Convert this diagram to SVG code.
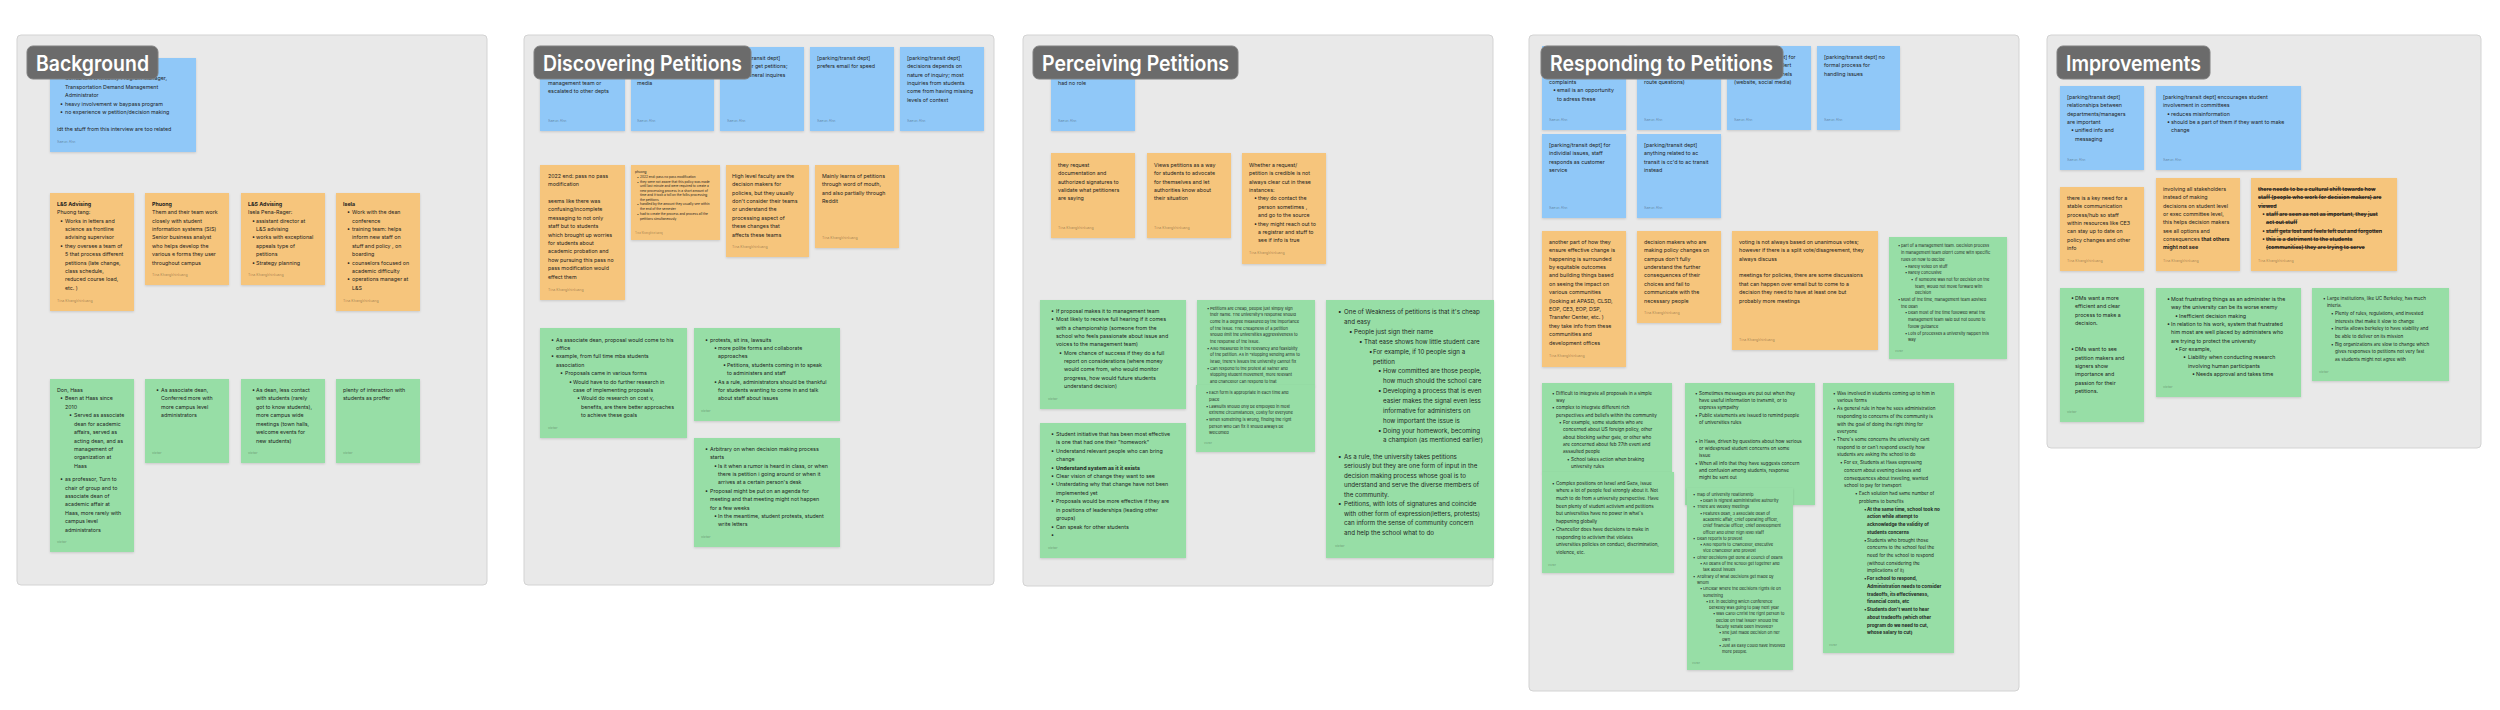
<svg xmlns="http://www.w3.org/2000/svg" width="2500" height="710" viewBox="0 0 2500 710">
<defs>
<filter id="sh" x="-10%" y="-10%" width="120%" height="125%">
<feDropShadow dx="0" dy="1" stdDeviation="1" flood-color="#000" flood-opacity="0.14"/>
</filter>
</defs>
<style>
text{font-family:Inter,"Liberation Sans","DejaVu Sans",sans-serif;fill:#1e1e1e}
.t{font-size:5.3px}
.m{font-size:6.2px}
.s{font-size:4.6px}
.xs{font-size:4.05px}
.xxs{font-size:3.2px}
.au{font-size:3.6px;fill:#000;fill-opacity:.38}
.b{font-weight:700}
.st{font-weight:700;text-decoration:line-through}
.title{font-size:21.5px;font-weight:600;fill:#fff}
.frame{fill:#e9e9e9;stroke:#d3d3d3;stroke-width:1}
.nb{fill:#90c8f8;filter:url(#sh)}
.no{fill:#f6c57b;filter:url(#sh)}
.ng{fill:#97dea6;filter:url(#sh)}
.badge{fill:#6b6b6b;stroke:#808080;stroke-width:1}
</style>
<rect x="0" y="0" width="2500" height="710" fill="#ffffff"/>

<g id="frames">
<rect class="frame" x="17" y="35" width="470" height="550" rx="4"/>
<rect class="frame" x="524" y="35" width="470" height="550" rx="4"/>
<rect class="frame" x="1023" y="35" width="470" height="551" rx="4"/>
<rect class="frame" x="1529" y="35" width="490" height="656" rx="4"/>
<rect class="frame" x="2047" y="35" width="434" height="413" rx="4"/>
</g>

<g id="connectors"></g>

<!-- ===== Background ===== -->
<g id="bg-blue-1">
<rect class="nb" x="50" y="58" width="146" height="94"/>
<text class="t">
<tspan x="60" y="80.1">•</tspan><tspan x="65">Consultant w Mobility Program Manager,</tspan>
<tspan x="65" y="88.8">Transportation Demand Management</tspan>
<tspan x="65" y="97.1">Administrator</tspan>
<tspan x="60" y="105.5">•</tspan><tspan x="65">heavy involvement w baypass program</tspan>
<tspan x="60" y="113.8">•</tspan><tspan x="65">no experience w petition/decision making</tspan>
<tspan x="57" y="130.8">idt the stuff from this interview are too related</tspan>
</text>
<text class="au" x="57" y="142.9">Saeun Ahn</text>
</g>

<g id="bg-orange-1">
<rect class="no" x="50" y="193" width="84" height="118"/>
<text class="t">
<tspan x="57" y="205.8" class="b">L&amp;S Advising</tspan>
<tspan x="57" y="214.2">Phuong tang:</tspan>
<tspan x="60" y="222.6">•</tspan><tspan x="65">Works in letters and</tspan>
<tspan x="65" y="231">science as frontline</tspan>
<tspan x="65" y="239.4">advising supervisor</tspan>
<tspan x="60" y="247.8">•</tspan><tspan x="65">they oversee a team of</tspan>
<tspan x="65" y="256.2">5 that process different</tspan>
<tspan x="65" y="264.6">petitions (late change,</tspan>
<tspan x="65" y="273">class schedule,</tspan>
<tspan x="65" y="281.4">reduced course load,</tspan>
<tspan x="65" y="289.8">etc. )</tspan>
</text>
<text class="au" x="57" y="302">Tina Khangkhinluang</text>
</g>

<g id="bg-orange-2">
<rect class="no" x="145" y="193" width="84" height="92"/>
<text class="t">
<tspan x="152" y="205.8" class="b">Phuong</tspan>
<tspan x="152" y="214.2">Them and their team work</tspan>
<tspan x="152" y="222.6">closely with student</tspan>
<tspan x="152" y="231">information systems (SIS)</tspan>
<tspan x="152" y="239.4">Senior business analyst</tspan>
<tspan x="152" y="247.8">who helps develop the</tspan>
<tspan x="152" y="256.2">various e forms they user</tspan>
<tspan x="152" y="264.6">throughout campus</tspan>
</text>
<text class="au" x="152" y="276.3">Tina Khangkhinluang</text>
</g>

<g id="bg-orange-3">
<rect class="no" x="241" y="193" width="84" height="92"/>
<text class="t">
<tspan x="248" y="205.8" class="b">L&amp;S Advising</tspan>
<tspan x="248" y="214.2">Isela Pena-Rager:</tspan>
<tspan x="252" y="222.6">•</tspan><tspan x="256">assistant director at</tspan>
<tspan x="256" y="231">L&amp;S advising</tspan>
<tspan x="252" y="239.4">•</tspan><tspan x="256">works with exceptional</tspan>
<tspan x="256" y="247.8">appeals type of</tspan>
<tspan x="256" y="256.2">petitions</tspan>
<tspan x="252" y="264.6">•</tspan><tspan x="256">Strategy planning</tspan>
</text>
<text class="au" x="248" y="276.3">Tina Khangkhinluang</text>
</g>

<g id="bg-orange-4">
<rect class="no" x="336" y="193" width="84" height="118"/>
<text class="t">
<tspan x="343" y="205.8" class="b">Isela</tspan>
<tspan x="347" y="214.2">•</tspan><tspan x="352">Work with the dean</tspan>
<tspan x="352" y="222.6">conference</tspan>
<tspan x="347" y="231">•</tspan><tspan x="352">training team: helps</tspan>
<tspan x="352" y="239.4">inform new staff on</tspan>
<tspan x="352" y="247.8">stuff and policy , on</tspan>
<tspan x="352" y="256.2">boarding</tspan>
<tspan x="347" y="264.6">•</tspan><tspan x="352">counselors focused on</tspan>
<tspan x="352" y="273">academic difficulty</tspan>
<tspan x="347" y="281.4">•</tspan><tspan x="352">operations manager at</tspan>
<tspan x="352" y="289.8">L&amp;S</tspan>
</text>
<text class="au" x="343" y="302">Tina Khangkhinluang</text>
</g>

<g id="bg-green-1">
<rect class="ng" x="50" y="379" width="84" height="173"/>
<text class="t">
<tspan x="57" y="391.8">Don, Haas</tspan>
<tspan x="60" y="400.1">•</tspan><tspan x="65">Been at Haas since</tspan>
<tspan x="65" y="408.8">2010</tspan>
<tspan x="69" y="417.1">•</tspan><tspan x="74">Served as associate</tspan>
<tspan x="74" y="425.5">dean for academic</tspan>
<tspan x="74" y="434.1">affairs, served as</tspan>
<tspan x="74" y="442.5">acting dean, and as</tspan>
<tspan x="74" y="450.8">management of</tspan>
<tspan x="74" y="459.1">organization at</tspan>
<tspan x="74" y="467.5">Haas</tspan>
<tspan x="60" y="481.1">•</tspan><tspan x="65">as professor, Turn to</tspan>
<tspan x="65" y="489.5">chair of group and to</tspan>
<tspan x="65" y="497.8">associate dean of</tspan>
<tspan x="65" y="506.1">academic affair at</tspan>
<tspan x="65" y="514.8">Haas, more rarely with</tspan>
<tspan x="65" y="523.1">campus level</tspan>
<tspan x="65" y="531.5">administrators</tspan>
</text>
<text class="au" x="57" y="543.2">victor</text>
</g>

<g id="bg-green-2">
<rect class="ng" x="145" y="379" width="84" height="84"/>
<text class="t">
<tspan x="156" y="391.8">•</tspan><tspan x="161">As associate dean,</tspan>
<tspan x="161" y="400.1">Conferred more with</tspan>
<tspan x="161" y="408.8">more campus level</tspan>
<tspan x="161" y="417.1">administrators</tspan>
</text>
<text class="au" x="152" y="454.2">victor</text>
</g>

<g id="bg-green-3">
<rect class="ng" x="241" y="379" width="84" height="84"/>
<text class="t">
<tspan x="252" y="391.8">•</tspan><tspan x="256">As dean, less contact</tspan>
<tspan x="256" y="400.1">with students (rarely</tspan>
<tspan x="256" y="408.8">got to know students),</tspan>
<tspan x="256" y="417.1">more campus wide</tspan>
<tspan x="256" y="425.5">meetings (town halls,</tspan>
<tspan x="256" y="434.1">welcome events for</tspan>
<tspan x="256" y="442.5">new students)</tspan>
</text>
<text class="au" x="248" y="454.2">victor</text>
</g>

<g id="bg-green-4">
<rect class="ng" x="336" y="379" width="84" height="84"/>
<text class="t">
<tspan x="343" y="391.8">plenty of interaction with</tspan>
<tspan x="343" y="400.1">students as proffer</tspan>
</text>
<text class="au" x="343" y="454.2">victor</text>
</g>

<!-- ===== Discovering Petitions ===== -->
<g id="dp-blue-1">
<rect class="nb" x="540" y="47" width="85" height="84"/>
<text class="t">
<tspan x="548" y="85">management team or</tspan>
<tspan x="548" y="93.4">escalated to other depts</tspan>
</text>
<text class="au" x="548" y="122.2">Saeun Ahn</text>
</g>
<g id="dp-blue-2">
<rect class="nb" x="631" y="47" width="83" height="84"/>
<text class="t"><tspan x="637" y="85">media</tspan></text>
<text class="au" x="637" y="122.2">Saeun Ahn</text>
</g>
<g id="dp-blue-3">
<rect class="nb" x="720" y="47" width="84" height="84"/>
<text class="t">
<tspan x="727" y="59.8">[parking/transit dept]</tspan>
<tspan x="727" y="68.2">they never get petitions;</tspan>
<tspan x="727" y="76.6">mostly general inquires</tspan>
</text>
<text class="au" x="727" y="122.2">Saeun Ahn</text>
</g>
<g id="dp-blue-4">
<rect class="nb" x="810" y="47" width="84" height="84"/>
<text class="t">
<tspan x="817" y="59.8">[parking/transit dept]</tspan>
<tspan x="817" y="68.2">prefers email for speed</tspan>
</text>
<text class="au" x="817" y="122.2">Saeun Ahn</text>
</g>
<g id="dp-blue-5">
<rect class="nb" x="900" y="47" width="84" height="84"/>
<text class="t">
<tspan x="907" y="59.8">[parking/transit dept]</tspan>
<tspan x="907" y="68.2">decisions depends on</tspan>
<tspan x="907" y="76.6">nature of inquiry; most</tspan>
<tspan x="907" y="85">inquiries from students</tspan>
<tspan x="907" y="93.4">come from having missing</tspan>
<tspan x="907" y="101.8">levels of context</tspan>
</text>
<text class="au" x="907" y="122.2">Saeun Ahn</text>
</g>

<g id="dp-orange-1">
<rect class="no" x="540" y="165" width="85" height="135"/>
<text class="t">
<tspan x="548" y="177.8">2022 end: pass no pass</tspan>
<tspan x="548" y="186.2">modification</tspan>
<tspan x="548" y="203">seems like there was</tspan>
<tspan x="548" y="211.4">confusing/incomplete</tspan>
<tspan x="548" y="219.8">messaging to not only</tspan>
<tspan x="548" y="228.2">staff but to students</tspan>
<tspan x="548" y="236.6">which brought up worries</tspan>
<tspan x="548" y="245">for students about</tspan>
<tspan x="548" y="253.4">academic probation and</tspan>
<tspan x="548" y="261.8">how pursuing this pass no</tspan>
<tspan x="548" y="270.2">pass modification would</tspan>
<tspan x="548" y="278.6">effect them</tspan>
</text>
<text class="au" x="548" y="291.2">Tina Khangkhinluang</text>
</g>

<g id="dp-orange-2">
<rect class="no" x="631" y="165" width="89" height="75"/>
<text class="xxs">
<tspan x="635" y="173.1">phuong</tspan>
<tspan x="637" y="178.4">•</tspan><tspan x="640">2022 end: pass no pass modification</tspan>
<tspan x="637" y="183.1">•</tspan><tspan x="640">they were not aware that this policy was made</tspan>
<tspan x="640" y="187.4">until last minute and were required to create a</tspan>
<tspan x="640" y="192.1">new processing process in a short amount of</tspan>
<tspan x="640" y="196.4">time and it took a toll on the folks processing</tspan>
<tspan x="640" y="200.8">the petitions</tspan>
<tspan x="637" y="205.4">•</tspan><tspan x="640">handled by the amount they usually see within</tspan>
<tspan x="640" y="210.1">the end of the semester</tspan>
<tspan x="637" y="214.8">•</tspan><tspan x="640">had to create the process and process all the</tspan>
<tspan x="640" y="219.8">petitions simultaneously</tspan>
</text>
<text class="au" x="635" y="233.5" style="font-size:2.8px">Tina Khangkhinluang</text>
</g>

<g id="dp-orange-3">
<rect class="no" x="726" y="165" width="83" height="92"/>
<text class="t">
<tspan x="732" y="177.8">High level faculty are the</tspan>
<tspan x="732" y="186.2">decision makers for</tspan>
<tspan x="732" y="194.6">policies, but they usually</tspan>
<tspan x="732" y="203">don't consider their teams</tspan>
<tspan x="732" y="211.4">or understand the</tspan>
<tspan x="732" y="219.8">processing aspect of</tspan>
<tspan x="732" y="228.2">these changes that</tspan>
<tspan x="732" y="236.6">affects these teams</tspan>
</text>
<text class="au" x="732" y="248.2">Tina Khangkhinluang</text>
</g>

<g id="dp-orange-4">
<rect class="no" x="815" y="165" width="84" height="83"/>
<text class="t">
<tspan x="822" y="177.8">Mainly learns of petitions</tspan>
<tspan x="822" y="186.2">through word of mouth,</tspan>
<tspan x="822" y="194.6">and also partially through</tspan>
<tspan x="822" y="203">Reddit</tspan>
</text>
<text class="au" x="822" y="239.2">Tina Khangkhinluang</text>
</g>

<g id="dp-green-1">
<rect class="ng" x="540" y="328" width="147" height="110"/>
<text class="t">
<tspan x="551" y="341.5">•</tspan><tspan x="556">As associate dean, proposal would come to his</tspan>
<tspan x="556" y="349.9">office</tspan>
<tspan x="551" y="358.3">•</tspan><tspan x="556">example, from full time mba students</tspan>
<tspan x="556" y="366.7">association</tspan>
<tspan x="560" y="375.1">•</tspan><tspan x="565">Proposals came in various forms</tspan>
<tspan x="569" y="383.5">•</tspan><tspan x="573">Would have to do further research in</tspan>
<tspan x="573" y="391.9">case of implementing proposals</tspan>
<tspan x="577" y="400.3">•</tspan><tspan x="581">Would do research on cost v,</tspan>
<tspan x="581" y="408.7">benefits, are there better approaches</tspan>
<tspan x="581" y="417.1">to achieve these goals</tspan>
</text>
<text class="au" x="548" y="429.2">victor</text>
</g>

<g id="dp-green-2">
<rect class="ng" x="694" y="328" width="146" height="93"/>
<text class="t">
<tspan x="705" y="341.5">•</tspan><tspan x="710">protests, sit ins, lawsuits</tspan>
<tspan x="714" y="349.9">•</tspan><tspan x="718">more polite forms and collaborate</tspan>
<tspan x="718" y="358.3">approaches</tspan>
<tspan x="723" y="366.7">•</tspan><tspan x="727">Petitions, students coming in to speak</tspan>
<tspan x="727" y="375.1">to administers and staff</tspan>
<tspan x="714" y="383.5">•</tspan><tspan x="718">As a rule, administrators should be thankful</tspan>
<tspan x="718" y="391.9">for students wanting to come in and talk</tspan>
<tspan x="718" y="400.3">about staff about issues</tspan>
</text>
<text class="au" x="701" y="412.2">victor</text>
</g>

<g id="dp-green-3">
<rect class="ng" x="694" y="438" width="146" height="109"/>
<text class="t">
<tspan x="705" y="450.8">•</tspan><tspan x="710">Arbitrary on when decision making process</tspan>
<tspan x="710" y="459.2">starts</tspan>
<tspan x="714" y="467.6">•</tspan><tspan x="718">Is it when a rumor is heard in class, or when</tspan>
<tspan x="718" y="476">there is petition i going around or when it</tspan>
<tspan x="718" y="484.4">arrives at a certain person's desk</tspan>
<tspan x="705" y="492.8">•</tspan><tspan x="710">Proposal might be put on an agenda for</tspan>
<tspan x="710" y="501.2">meeting and that meeting might not happen</tspan>
<tspan x="710" y="509.6">for a few weeks</tspan>
<tspan x="714" y="518">•</tspan><tspan x="718">In the meantime, student protests, student</tspan>
<tspan x="718" y="526.4">write letters</tspan>
</text>
<text class="au" x="701" y="538.2">victor</text>
</g>

<!-- ===== Perceiving Petitions ===== -->
<g id="pp-blue-1">
<rect class="nb" x="1051" y="47" width="84" height="84"/>
<text class="t"><tspan x="1058" y="84.8">had no role</tspan></text>
<text class="au" x="1058" y="122.2">Saeun Ahn</text>
</g>

<g id="pp-orange-1">
<rect class="no" x="1051" y="153" width="84" height="85"/>
<text class="t">
<tspan x="1058" y="166.8">they request</tspan>
<tspan x="1058" y="175.2">documentation and</tspan>
<tspan x="1058" y="183.6">authorized signatures to</tspan>
<tspan x="1058" y="192">validate what petitioners</tspan>
<tspan x="1058" y="200.4">are saying</tspan>
</text>
<text class="au" x="1058" y="229.2">Tina Khangkhinluang</text>
</g>
<g id="pp-orange-2">
<rect class="no" x="1147" y="153" width="84" height="85"/>
<text class="t">
<tspan x="1154" y="166.8">Views petitions as a way</tspan>
<tspan x="1154" y="175.2">for students to advocate</tspan>
<tspan x="1154" y="183.6">for themselves and let</tspan>
<tspan x="1154" y="192">authorities know about</tspan>
<tspan x="1154" y="200.4">their situation</tspan>
</text>
<text class="au" x="1154" y="229.2">Tina Khangkhinluang</text>
</g>
<g id="pp-orange-3">
<rect class="no" x="1242" y="153" width="84" height="111"/>
<text class="t">
<tspan x="1249" y="166.8">Whether a request/</tspan>
<tspan x="1249" y="175.2">petition is credible is not</tspan>
<tspan x="1249" y="183.6">always clear cut in these</tspan>
<tspan x="1249" y="192">instances:</tspan>
<tspan x="1254" y="200.4">•</tspan><tspan x="1258">they do contact the</tspan>
<tspan x="1258" y="208.8">person sometimes ,</tspan>
<tspan x="1258" y="217.2">and go to the source</tspan>
<tspan x="1254" y="225.6">•</tspan><tspan x="1258">they might reach out to</tspan>
<tspan x="1258" y="234">a registrar and stuff to</tspan>
<tspan x="1258" y="242.4">see if info is true</tspan>
</text>
<text class="au" x="1249" y="254.2">Tina Khangkhinluang</text>
</g>

<g id="pp-green-1">
<rect class="ng" x="1040" y="300" width="146" height="109"/>
<text class="t">
<tspan x="1051" y="312.8">•</tspan><tspan x="1056">If proposal makes it to management team</tspan>
<tspan x="1051" y="321.2">•</tspan><tspan x="1056">Most likely to receive full hearing if it comes</tspan>
<tspan x="1056" y="329.5">with a championship (someone from the</tspan>
<tspan x="1056" y="337.9">school who feels passionate about issue  and</tspan>
<tspan x="1056" y="346.3">voices to the management team)</tspan>
<tspan x="1059" y="354.7">•</tspan><tspan x="1064">More chance of success if they do a full</tspan>
<tspan x="1064" y="363">report on considerations (where money</tspan>
<tspan x="1064" y="371.4">would come from, who would monitor</tspan>
<tspan x="1064" y="379.8">progress, how would future students</tspan>
<tspan x="1064" y="388.1">understand decision)</tspan>
</text>
<text class="au" x="1048" y="400.2">victor</text>
</g>

<g id="pp-green-2">
<rect class="ng" x="1040" y="423" width="146" height="135"/>
<text class="t">
<tspan x="1051" y="435.8">•</tspan><tspan x="1056">Student initiative that has been most effective</tspan>
<tspan x="1056" y="444.2">is one that had one their "homework"</tspan>
<tspan x="1051" y="452.7">•</tspan><tspan x="1056">Understand relevant people who can bring</tspan>
<tspan x="1056" y="461.1">change</tspan>
<tspan x="1051" y="469.5">•</tspan><tspan x="1056" class="b">Understand system as it it exists</tspan>
<tspan x="1051" y="478">•</tspan><tspan x="1056">Clear vision of change they want to see</tspan>
<tspan x="1051" y="486.4">•</tspan><tspan x="1056">Unsterdating why that change have not been</tspan>
<tspan x="1056" y="494.8">implemented yet</tspan>
<tspan x="1051" y="503.2">•</tspan><tspan x="1056">Proposals would be more effective if they are</tspan>
<tspan x="1056" y="511.7">in positions of leaderships (leading other</tspan>
<tspan x="1056" y="520.1">groups)</tspan>
<tspan x="1051" y="528.5">•</tspan><tspan x="1056">Can speak for other students</tspan>
<tspan x="1051" y="537">•</tspan>
</text>
<text class="au" x="1048" y="549.2">victor</text>
</g>

<g id="pp-green-3">
<rect class="ng" x="1197" y="300" width="118" height="86"/>
<rect class="ng" x="1196" y="385" width="119" height="67"/>
<text class="xs">
<tspan x="1207" y="309.7">•</tspan><tspan x="1210">Petitions are cheap, people just simply sign</tspan>
<tspan x="1210" y="316.4">their name. The university's response should</tspan>
<tspan x="1210" y="323">come in a degree measured  by the importance</tspan>
<tspan x="1210" y="329.7">of the issue. The cheapness of a petition</tspan>
<tspan x="1210" y="336.4">should limit the universities aggressiveness  to</tspan>
<tspan x="1210" y="343">the response of the issue.</tspan>
<tspan x="1207" y="349.7">•</tspan><tspan x="1210">Also measured in the relevancy and feasibility</tspan>
<tspan x="1210" y="356.4">of the petition. As in "stopping sending arms to</tspan>
<tspan x="1210" y="363">israel, there's issues the university cannot fix</tspan>
<tspan x="1207" y="369.7">•</tspan><tspan x="1210">Can respond to the protest at Sather and</tspan>
<tspan x="1210" y="376.4">stopping student movement, more relevant</tspan>
<tspan x="1210" y="383">and chancellor can respond to that</tspan>
<tspan x="1206" y="394.4">•</tspan><tspan x="1209">Each form is appropriate in each time and</tspan>
<tspan x="1209" y="401">place</tspan>
<tspan x="1206" y="407.6">•</tspan><tspan x="1209">Lawsuits should only be employed in most</tspan>
<tspan x="1209" y="414.3">extreme circumstances, costly for everyone</tspan>
<tspan x="1206" y="420.9">•</tspan><tspan x="1209">When something is wrong, finding the right</tspan>
<tspan x="1209" y="427.5">person who can fix it should always be</tspan>
<tspan x="1209" y="434.1">welcomed</tspan>
</text>
<text class="au" x="1204" y="444" style="font-size:3px">victor</text>
</g>

<g id="pp-green-4">
<rect class="ng" x="1326" y="300" width="168" height="258"/>
<text class="m">
<tspan x="1338" y="314.1">•</tspan><tspan x="1344">One of Weakness of petitions is that it's cheap</tspan>
<tspan x="1344" y="324">and easy</tspan>
<tspan x="1349" y="333.8">•</tspan><tspan x="1354">People just sign their name</tspan>
<tspan x="1359" y="343.7">•</tspan><tspan x="1364">That ease shows how little student care</tspan>
<tspan x="1369" y="353.6">•</tspan><tspan x="1373">For example, if 10 people sign a</tspan>
<tspan x="1373" y="363.5">petition</tspan>
<tspan x="1378" y="373.3">•</tspan><tspan x="1383">How committed are those people,</tspan>
<tspan x="1383" y="383.2">how much should the school care</tspan>
<tspan x="1378" y="393.1">•</tspan><tspan x="1383">Developing a process that is even</tspan>
<tspan x="1383" y="402.9">easier makes the signal even less</tspan>
<tspan x="1383" y="412.8">informative for administers on</tspan>
<tspan x="1383" y="422.7">how important the issue is</tspan>
<tspan x="1378" y="432.5">•</tspan><tspan x="1383">Doing your homework, becoming</tspan>
<tspan x="1383" y="442.4">a champion (as mentioned earlier)</tspan>
<tspan x="1338" y="458.8">•</tspan><tspan x="1344">As a rule, the university takes petitions</tspan>
<tspan x="1344" y="468.3">seriously but they are one form of input in the</tspan>
<tspan x="1344" y="477.8">decision making process whose goal is to</tspan>
<tspan x="1344" y="487.3">understand and serve the diverse members of</tspan>
<tspan x="1344" y="496.8">the community.</tspan>
<tspan x="1338" y="506.3">•</tspan><tspan x="1344">Petitions, with lots of signatures and coincide</tspan>
<tspan x="1344" y="515.8">with other form of expression(letters, protests)</tspan>
<tspan x="1344" y="525.3">can inform the sense of community concern</tspan>
<tspan x="1344" y="534.8">and help the school what to do</tspan>
</text>
<text class="au" x="1335" y="547.2">victor</text>
</g>

<!-- ===== Responding to Petitions ===== -->
<g id="rp-blue-1">
<rect class="nb" x="1542" y="46" width="84" height="84"/>
<text class="t">
<tspan x="1549" y="83.8">complaints</tspan>
<tspan x="1553" y="92.1">•</tspan><tspan x="1557">email is an opportunity</tspan>
<tspan x="1557" y="100.5">to adress these</tspan>
</text>
<text class="au" x="1549" y="121.2">Saeun Ahn</text>
</g>
<g id="rp-blue-2">
<rect class="nb" x="1637" y="46" width="84" height="84"/>
<text class="t"><tspan x="1644" y="83.8">route questions)</tspan></text>
<text class="au" x="1644" y="121.2">Saeun Ahn</text>
</g>
<g id="rp-blue-3">
<rect class="nb" x="1727" y="46" width="84" height="84"/>
<text class="t">
<tspan x="1734" y="58.8">[parking/transit dept] for</tspan>
<tspan x="1734" y="67.2">big changes, they alert</tspan>
<tspan x="1734" y="75.6">through other channels</tspan>
<tspan x="1734" y="84">(website, social media)</tspan>
</text>
<text class="au" x="1734" y="121.2">Saeun Ahn</text>
</g>
<g id="rp-blue-4">
<rect class="nb" x="1817" y="46" width="83" height="84"/>
<text class="t">
<tspan x="1824" y="58.8">[parking/transit dept] no</tspan>
<tspan x="1824" y="67.2">formal process for</tspan>
<tspan x="1824" y="75.6">handling issues</tspan>
</text>
<text class="au" x="1824" y="121.2">Saeun Ahn</text>
</g>
<g id="rp-blue-5">
<rect class="nb" x="1542" y="134" width="84" height="84"/>
<text class="t">
<tspan x="1549" y="146.8">[parking/transit dept]  for</tspan>
<tspan x="1549" y="155.2">individial issues, staff</tspan>
<tspan x="1549" y="163.6">responds as customer</tspan>
<tspan x="1549" y="172">service</tspan>
</text>
<text class="au" x="1549" y="209.2">Saeun Ahn</text>
</g>
<g id="rp-blue-6">
<rect class="nb" x="1637" y="134" width="84" height="84"/>
<text class="t">
<tspan x="1644" y="146.8">[parking/transit dept]</tspan>
<tspan x="1644" y="155.2">anything related to ac</tspan>
<tspan x="1644" y="163.6">transit is cc'd to ac transit</tspan>
<tspan x="1644" y="172">instead</tspan>
</text>
<text class="au" x="1644" y="209.2">Saeun Ahn</text>
</g>

<g id="rp-orange-1">
<rect class="no" x="1542" y="231" width="84" height="136"/>
<text class="t">
<tspan x="1549" y="243.8">another part of how they</tspan>
<tspan x="1549" y="252.2">ensure effective change is</tspan>
<tspan x="1549" y="260.6">happening is surrounded</tspan>
<tspan x="1549" y="269">by equitable outcomes</tspan>
<tspan x="1549" y="277.4">and building things based</tspan>
<tspan x="1549" y="285.8">on seeing the impact on</tspan>
<tspan x="1549" y="294.2">various communities</tspan>
<tspan x="1549" y="302.6">(looking at APASD, CLSD,</tspan>
<tspan x="1549" y="311">EOP, CE3, EOP, DSP,</tspan>
<tspan x="1549" y="319.4">Transfer Center, etc. )</tspan>
<tspan x="1549" y="327.8">they take info from these</tspan>
<tspan x="1549" y="336.2">communities and</tspan>
<tspan x="1549" y="344.6">development offices</tspan>
</text>
<text class="au" x="1549" y="357.2">Tina Khangkhinluang</text>
</g>
<g id="rp-orange-2">
<rect class="no" x="1637" y="231" width="84" height="92"/>
<text class="t">
<tspan x="1644" y="243.8">decision makers who are</tspan>
<tspan x="1644" y="252.2">making policy changes on</tspan>
<tspan x="1644" y="260.6">campus don't fully</tspan>
<tspan x="1644" y="269">understand the further</tspan>
<tspan x="1644" y="277.4">consequences of their</tspan>
<tspan x="1644" y="285.8">choices and fail to</tspan>
<tspan x="1644" y="294.2">communicate with the</tspan>
<tspan x="1644" y="302.6">necessary people</tspan>
</text>
<text class="au" x="1644" y="314.2">Tina Khangkhinluang</text>
</g>
<g id="rp-orange-3">
<rect class="no" x="1732" y="231" width="146" height="119"/>
<text class="t">
<tspan x="1739" y="243.8">voting is not always based on unanimous votes;</tspan>
<tspan x="1739" y="252.2">however if there is a split vote/disagreement, they</tspan>
<tspan x="1739" y="260.6">always discuss</tspan>
<tspan x="1739" y="277.4">meetings for policies, there are some discussions</tspan>
<tspan x="1739" y="285.8">that can happen over email but to come to a</tspan>
<tspan x="1739" y="294.2">decision they need to have at least one but</tspan>
<tspan x="1739" y="302.6">probably more meetings</tspan>
</text>
<text class="au" x="1739" y="341.2">Tina Khangkhinluang</text>
</g>

<g id="rp-green-1">
<rect class="ng" x="1889" y="237" width="118" height="122"/>
<text class="xs">
<tspan x="1898" y="247.4">•</tspan><tspan x="1901">part of a management team. Decision process</tspan>
<tspan x="1901" y="254.1">in management team didn't come with specific</tspan>
<tspan x="1901" y="260.8">rules on how to decide</tspan>
<tspan x="1905" y="267.5">•</tspan><tspan x="1908">Rarely voted on stuff</tspan>
<tspan x="1905" y="274.2">•</tspan><tspan x="1908">Rarely conclusive</tspan>
<tspan x="1911" y="280.9">•</tspan><tspan x="1915">If someone was not for decision on the</tspan>
<tspan x="1915" y="287.6">team, would not move forward with</tspan>
<tspan x="1915" y="294.3">decision</tspan>
<tspan x="1898" y="301">•</tspan><tspan x="1901">Most of the time, management team advised</tspan>
<tspan x="1901" y="307.7">the dean</tspan>
<tspan x="1905" y="314.4">•</tspan><tspan x="1908">Dean most of the time followed what the</tspan>
<tspan x="1908" y="321.1">management team said but not bound to</tspan>
<tspan x="1908" y="327.8">follow guidance</tspan>
<tspan x="1905" y="334.5">•</tspan><tspan x="1908">Lots of processes a university happen this</tspan>
<tspan x="1908" y="341.2">way</tspan>
</text>
<text class="au" x="1895" y="352.2" style="font-size:3px">victor</text>
</g>

<g id="rp-green-2">
<rect class="ng" x="1542" y="383" width="130" height="90"/>
<rect class="ng" x="1542" y="472" width="132" height="101"/>
<text class="s">
<tspan x="1552" y="394.6">•</tspan><tspan x="1556">Difficult to integrate all proposals in a simple</tspan>
<tspan x="1556" y="401.9">way</tspan>
<tspan x="1552" y="409.3">•</tspan><tspan x="1556">complex to integrate different rich</tspan>
<tspan x="1556" y="416.6">perspectives and beliefs within the community</tspan>
<tspan x="1559" y="423.9">•</tspan><tspan x="1563">For example, some students who are</tspan>
<tspan x="1563" y="431.3">concerned about US foreign policy, other</tspan>
<tspan x="1563" y="438.6">about blocking sather gate, or other who</tspan>
<tspan x="1563" y="445.9">are concerned about feb 27th event and</tspan>
<tspan x="1563" y="453.3">assaulted people</tspan>
<tspan x="1567" y="460.9">•</tspan><tspan x="1571">School takes action when braking</tspan>
<tspan x="1571" y="468.3">university rules</tspan>
<tspan x="1552" y="484.6">•</tspan><tspan x="1556">Complex positions on Israel and Gaza, issue</tspan>
<tspan x="1556" y="492.3">where a lot of people feel strongly about it. Not</tspan>
<tspan x="1556" y="499.9">much to do from a university perspective. Have</tspan>
<tspan x="1556" y="507.6">been plenty of student activism and petitions</tspan>
<tspan x="1556" y="515.3">but universities have no power in what's</tspan>
<tspan x="1556" y="522.9">happening globally</tspan>
<tspan x="1552" y="530.9">•</tspan><tspan x="1556">Chancellor does have decisions to make in</tspan>
<tspan x="1556" y="538.6">responding to activism that violates</tspan>
<tspan x="1556" y="546.3">universities policies on conduct, discrimination,</tspan>
<tspan x="1556" y="553.9">violence, etc.</tspan>
</text>
<text class="au" x="1548" y="566.2" style="font-size:3px">victor</text>
</g>

<g id="rp-green-3">
<rect class="ng" x="1685" y="383" width="130" height="122"/>
<rect class="ng" x="1687" y="488" width="106" height="182"/>
<text class="s">
<tspan x="1695" y="394.6">•</tspan><tspan x="1699">Sometimes messages are put out when they</tspan>
<tspan x="1699" y="401.9">have useful information to transmit, or to</tspan>
<tspan x="1699" y="409.3">express sympathy</tspan>
<tspan x="1695" y="416.6">•</tspan><tspan x="1699">Public statements are issued to remind people</tspan>
<tspan x="1699" y="423.9">of universities rules</tspan>
<tspan x="1695" y="442.6">•</tspan><tspan x="1699">In Haas, driven by questions about how serious</tspan>
<tspan x="1699" y="449.9">or widespread student concerns on some</tspan>
<tspan x="1699" y="457.3">issue</tspan>
<tspan x="1695" y="464.6">•</tspan><tspan x="1699">When all info that they have suggests concern</tspan>
<tspan x="1699" y="471.9">and confusion among students, response</tspan>
<tspan x="1699" y="479.3">might be sent out</tspan>
</text>
<text class="xs">
<tspan x="1693" y="495.7">•</tspan><tspan x="1697">map of university relationship</tspan>
<tspan x="1700" y="502">•</tspan><tspan x="1703">Dean is highest administrative authority</tspan>
<tspan x="1693" y="508.3">•</tspan><tspan x="1697">There are Weekly meetings</tspan>
<tspan x="1700" y="514.6">•</tspan><tspan x="1703">Features dean, 3 associate dean of</tspan>
<tspan x="1703" y="520.9">academic affair, chief operating officer,</tspan>
<tspan x="1703" y="527.2">chief financial officer, chief development</tspan>
<tspan x="1703" y="533.5">officer and other high level staff</tspan>
<tspan x="1693" y="539.8">•</tspan><tspan x="1697">Dean reports to provost</tspan>
<tspan x="1700" y="546.1">•</tspan><tspan x="1703">Also reports to Chancellor, executive</tspan>
<tspan x="1703" y="552.4">vice chancellor and provost</tspan>
<tspan x="1693" y="558.7">•</tspan><tspan x="1697">Other decisions get done at council of deans</tspan>
<tspan x="1700" y="565">•</tspan><tspan x="1703">All deans of the school get together and</tspan>
<tspan x="1703" y="571.3">talk about issues</tspan>
<tspan x="1693" y="577.6">•</tspan><tspan x="1697">Arbitrary of what decisions get made by</tspan>
<tspan x="1697" y="583.9">whom</tspan>
<tspan x="1700" y="590.2">•</tspan><tspan x="1703">Unclear where the decisions rights lie on</tspan>
<tspan x="1703" y="596.5">something</tspan>
<tspan x="1706" y="602.8">•</tspan><tspan x="1709">Ex. in deciding which conference</tspan>
<tspan x="1709" y="609.1">berkeley was going to play next year</tspan>
<tspan x="1713" y="615.4">•</tspan><tspan x="1716">Was Carol Christ the right person to</tspan>
<tspan x="1716" y="621.7">decide on that issue? Should the</tspan>
<tspan x="1716" y="628">faculty senate been involved?</tspan>
<tspan x="1719" y="634.3">•</tspan><tspan x="1722">She just made decision on her</tspan>
<tspan x="1722" y="640.6">own</tspan>
<tspan x="1719" y="646.9">•</tspan><tspan x="1722">Just as easy could have involved</tspan>
<tspan x="1722" y="653.2">more people.</tspan>
</text>
<text class="au" x="1692" y="664" style="font-size:3px">victor</text>
</g>

<g id="rp-green-4">
<rect class="ng" x="1823" y="383" width="131" height="270"/>
<text class="s">
<tspan x="1833" y="394.6">•</tspan><tspan x="1837">Was involved in students coming up to him in</tspan>
<tspan x="1837" y="402.3">various forms</tspan>
<tspan x="1833" y="410.1">•</tspan><tspan x="1837">As general rule in how he sees administration</tspan>
<tspan x="1837" y="417.8">responding to concerns of the community is</tspan>
<tspan x="1837" y="425.5">with the goal of doing the right thing for</tspan>
<tspan x="1837" y="433.3">everyone</tspan>
<tspan x="1833" y="441">•</tspan><tspan x="1837">There's some concerns the university cant</tspan>
<tspan x="1837" y="448.7">respond to or can't respond exactly how</tspan>
<tspan x="1837" y="456.4">students are asking the school to do</tspan>
<tspan x="1840" y="464.2">•</tspan><tspan x="1844">For ex, Students at Haas expressing</tspan>
<tspan x="1844" y="471.9">concern about evening classes and</tspan>
<tspan x="1844" y="479.6">consequences about traveling, wanted</tspan>
<tspan x="1844" y="487.4">school to pay for transport</tspan>
<tspan x="1855" y="495.1">•</tspan><tspan x="1859">Each solution had same number of</tspan>
<tspan x="1859" y="502.8">problems to benefits</tspan>
<tspan x="1864" y="510.6">•</tspan><tspan x="1867" class="b">At the same time, school took no</tspan>
<tspan x="1867" y="518.3" class="b">action while attempt to</tspan>
<tspan x="1867" y="526" class="b">acknowledge the validity of</tspan>
<tspan x="1867" y="533.8" class="b">students concerns</tspan>
<tspan x="1864" y="541.5">•</tspan><tspan x="1867">Students who brought those</tspan>
<tspan x="1867" y="549.2">concerns to the school feel the</tspan>
<tspan x="1867" y="557">need for the school to respond</tspan>
<tspan x="1867" y="564.7">(without considering the</tspan>
<tspan x="1867" y="572.4">implications of it)</tspan>
<tspan x="1864" y="580.2">•</tspan><tspan x="1867" class="b">For school to respond,</tspan>
<tspan x="1867" y="587.9" class="b">Administration needs to consider</tspan>
<tspan x="1867" y="595.6" class="b">tradeoffs, its effectiveness,</tspan>
<tspan x="1867" y="603.3" class="b">financial costs, etc</tspan>
<tspan x="1864" y="611.1">•</tspan><tspan x="1867" class="b">Students don't want to hear</tspan>
<tspan x="1867" y="618.8" class="b">about tradeoffs (which other</tspan>
<tspan x="1867" y="626.5" class="b">program do we need to cut,</tspan>
<tspan x="1867" y="634.3" class="b">whose salary to cut)</tspan>
</text>
<text class="au" x="1829" y="646.2" style="font-size:3px">victor</text>
</g>

<!-- ===== Improvements ===== -->
<g id="im-blue-1">
<rect class="nb" x="2060" y="86" width="84" height="84"/>
<text class="t">
<tspan x="2067" y="98.8">[parking/transit dept]</tspan>
<tspan x="2067" y="107.1">relationships between</tspan>
<tspan x="2067" y="115.5">departments/managers</tspan>
<tspan x="2067" y="123.8">are important</tspan>
<tspan x="2071" y="132.1">•</tspan><tspan x="2075">unified info and</tspan>
<tspan x="2075" y="140.5">messaging</tspan>
</text>
<text class="au" x="2067" y="161.2">Saeun Ahn</text>
</g>
<g id="im-blue-2">
<rect class="nb" x="2156" y="86" width="145" height="84"/>
<text class="t">
<tspan x="2163" y="98.8">[parking/transit dept] encourages student</tspan>
<tspan x="2163" y="107.1">involvement in committees</tspan>
<tspan x="2167" y="115.5">•</tspan><tspan x="2171">reduces misinformation</tspan>
<tspan x="2167" y="123.8">•</tspan><tspan x="2171">should be a part of them if they want to make</tspan>
<tspan x="2171" y="132.1">change</tspan>
</text>
<text class="au" x="2163" y="161.2">Saeun Ahn</text>
</g>

<g id="im-orange-1">
<rect class="no" x="2060" y="187" width="84" height="84"/>
<text class="t">
<tspan x="2067" y="199.8">there is a key need for a</tspan>
<tspan x="2067" y="208.1">stable communication</tspan>
<tspan x="2067" y="216.5">process/hub so staff</tspan>
<tspan x="2067" y="224.8">within resources like CE3</tspan>
<tspan x="2067" y="233.1">can stay up to date on</tspan>
<tspan x="2067" y="241.5">policy changes and other</tspan>
<tspan x="2067" y="249.8">info</tspan>
</text>
<text class="au" x="2067" y="262.2">Tina Khangkhinluang</text>
</g>
<g id="im-orange-2">
<rect class="no" x="2156" y="178" width="84" height="93"/>
<text class="t">
<tspan x="2163" y="190.8">involving all stakeholders</tspan>
<tspan x="2163" y="199.1">instead of making</tspan>
<tspan x="2163" y="207.5">decisions on student level</tspan>
<tspan x="2163" y="215.8">or exec committee level,</tspan>
<tspan x="2163" y="224.1">this helps decision makers</tspan>
<tspan x="2163" y="232.5">see all options and</tspan>
<tspan x="2163" y="240.8">consequences <tspan class="b">that others</tspan></tspan>
<tspan x="2163" y="249.1" class="b">might not see</tspan>
</text>
<text class="au" x="2163" y="262.2">Tina Khangkhinluang</text>
</g>
<g id="im-orange-3">
<rect class="no" x="2251" y="178" width="146" height="93"/>
<text class="t">
<tspan x="2258" y="190.8" class="st">there needs to be a cultural shift towards how</tspan>
<tspan x="2258" y="199.1" class="st">staff (people who work for decision makers) are</tspan>
<tspan x="2258" y="207.5" class="st">viewed</tspan>
<tspan x="2262" y="215.8">•</tspan><tspan x="2266" class="st">staff are seen as not as important, they just</tspan>
<tspan x="2266" y="224.1" class="st">act out stuff</tspan>
<tspan x="2262" y="232.5">•</tspan><tspan x="2266" class="st">staff gets lost and feels left out and forgotten</tspan>
<tspan x="2262" y="240.8">•</tspan><tspan x="2266" class="st">this is a detriment to the students</tspan>
<tspan x="2266" y="249.1" class="st">(communities) they are trying to serve</tspan>
</text>
<text class="au" x="2258" y="262.2">Tina Khangkhinluang</text>
</g>

<g id="im-green-1">
<rect class="ng" x="2060" y="288" width="84" height="134"/>
<text class="t">
<tspan x="2071" y="299.8">•</tspan><tspan x="2075">DMs want a more</tspan>
<tspan x="2075" y="308.1">efficient and clear</tspan>
<tspan x="2075" y="316.5">process to make a</tspan>
<tspan x="2075" y="324.8">decision.</tspan>
<tspan x="2071" y="351.1">•</tspan><tspan x="2075">DMs want to see</tspan>
<tspan x="2075" y="359.5">petition makers and</tspan>
<tspan x="2075" y="367.8">signers show</tspan>
<tspan x="2075" y="376.1">importance and</tspan>
<tspan x="2075" y="384.5">passion for their</tspan>
<tspan x="2075" y="392.8">petitions.</tspan>
</text>
<text class="au" x="2067" y="413.2">victor</text>
</g>
<g id="im-green-2">
<rect class="ng" x="2156" y="288" width="145" height="109"/>
<text class="t">
<tspan x="2167" y="300.8">•</tspan><tspan x="2171">Most frustrating things as an administer is the</tspan>
<tspan x="2171" y="309.1">way the university can be its worse enemy</tspan>
<tspan x="2175" y="317.5">•</tspan><tspan x="2179">Inefficient decision making</tspan>
<tspan x="2167" y="325.8">•</tspan><tspan x="2171">In relation to his work, system that frustrated</tspan>
<tspan x="2171" y="334.1">him most are well placed by administers who</tspan>
<tspan x="2171" y="342.5">are trying to protect the university</tspan>
<tspan x="2175" y="350.8">•</tspan><tspan x="2179">For example,</tspan>
<tspan x="2183" y="359.1">•</tspan><tspan x="2188">Liability when conducting research</tspan>
<tspan x="2188" y="367.5">involving human participants</tspan>
<tspan x="2192" y="375.8">•</tspan><tspan x="2196">Needs approval and takes time</tspan>
</text>
<text class="au" x="2163" y="388.2">victor</text>
</g>
<g id="im-green-3">
<rect class="ng" x="2312" y="288" width="137" height="93"/>
<text class="s">
<tspan x="2323" y="299.6">•</tspan><tspan x="2327">Large institutions, like UC Berkeley, has much</tspan>
<tspan x="2327" y="307.3">interia.</tspan>
<tspan x="2331" y="314.9">•</tspan><tspan x="2335">Plenty of rules, regulations, and invested</tspan>
<tspan x="2335" y="322.6">interests that make it slow to change</tspan>
<tspan x="2331" y="330.3">•</tspan><tspan x="2335">Inertia allows berkeley to have stability and</tspan>
<tspan x="2335" y="337.9">be able to deliver on its mission</tspan>
<tspan x="2331" y="345.6">•</tspan><tspan x="2335">Big organizations are slow to change which</tspan>
<tspan x="2335" y="353.3">gives responses to petitions not very fast</tspan>
<tspan x="2335" y="360.9">as students might not agree with</tspan>
</text>
<text class="au" x="2319" y="373.2">victor</text>
</g>

<!-- ===== Section title badges ===== -->
<g id="title-background">
<rect class="badge" x="27" y="46" width="131" height="33" rx="6"/>
<text class="title" x="36" y="70.7" textLength="113" lengthAdjust="spacingAndGlyphs">Background</text>
</g>
<g id="title-discovering">
<rect class="badge" x="534" y="46" width="217" height="33" rx="6"/>
<text class="title" x="543" y="70.7" textLength="199" lengthAdjust="spacingAndGlyphs">Discovering Petitions</text>
</g>
<g id="title-perceiving">
<rect class="badge" x="1033" y="46" width="205" height="33" rx="6"/>
<text class="title" x="1042" y="70.7" textLength="187" lengthAdjust="spacingAndGlyphs">Perceiving Petitions</text>
</g>
<g id="title-responding">
<rect class="badge" x="1541" y="46" width="242" height="33" rx="6"/>
<text class="title" x="1550" y="70.7" textLength="223" lengthAdjust="spacingAndGlyphs">Responding to Petitions</text>
</g>
<g id="title-improvements">
<rect class="badge" x="2057" y="46" width="153" height="33" rx="6"/>
<text class="title" x="2066" y="70.7" textLength="135" lengthAdjust="spacingAndGlyphs">Improvements</text>
</g>
</svg>
